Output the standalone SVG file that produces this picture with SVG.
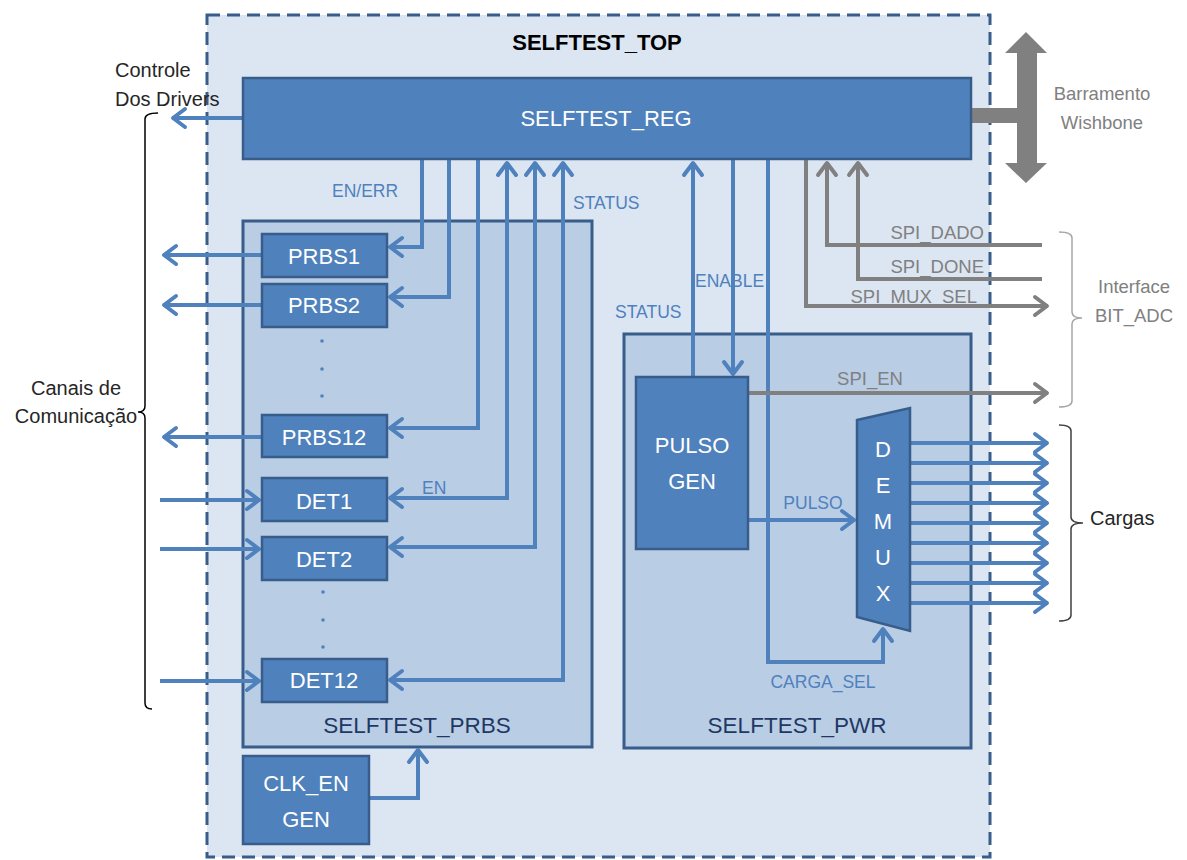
<svg xmlns="http://www.w3.org/2000/svg" width="1187" height="860" viewBox="0 0 1187 860">
<style>
text{font-family:"Liberation Sans",Arial,sans-serif}
.box{fill:#4f81bd;stroke:#385d8a;stroke-width:2.5}
.cont{fill:#b9cde5;stroke:#385d8a;stroke-width:3}
.wt{fill:#ffffff;font-size:22px;text-anchor:middle}
.ct{fill:#1f3864;font-size:22.5px;text-anchor:middle}
.bl{fill:#4f81bd;font-size:17.5px}
.gr{fill:#808080;font-size:18.5px}
.dk{fill:#262626;font-size:20px}
.w{fill:none;stroke:#4f81bd;stroke-width:4;stroke-linejoin:miter}
.g{fill:none;stroke:#808080;stroke-width:4}
.ab{marker-end:url(#ab)}
.abs{marker-start:url(#ab)}
.ag{marker-end:url(#ag)}
.br{fill:none;stroke-width:1.5}
</style>
<defs>
<marker id="ab" markerUnits="userSpaceOnUse" markerWidth="32" markerHeight="32" viewBox="-16 -16 32 32" refX="1" refY="0" orient="auto-start-reverse" overflow="visible">
<path d="M-12,-9 L0,0 L-12,9" fill="none" stroke="#4f81bd" stroke-width="4" stroke-linecap="round" stroke-linejoin="round"/>
</marker>
<marker id="ag" markerUnits="userSpaceOnUse" markerWidth="32" markerHeight="32" viewBox="-16 -16 32 32" refX="1" refY="0" orient="auto-start-reverse" overflow="visible">
<path d="M-12,-9 L0,0 L-12,9" fill="none" stroke="#808080" stroke-width="4" stroke-linecap="round" stroke-linejoin="round"/>
</marker>
</defs>
<rect width="1187" height="860" fill="#ffffff"/>

<g id="selftest_top">
<rect x="207" y="15" width="783" height="842" fill="#dce6f2" stroke="#385d8a" stroke-width="3" stroke-dasharray="13 7"/>
<text x="597" y="50" font-size="22" font-weight="bold" fill="#000000" text-anchor="middle">SELFTEST_TOP</text>
</g>

<g id="selftest_prbs">
<rect class="cont" x="243" y="221" width="349" height="526"/>
<text class="ct" x="417" y="733">SELFTEST_PRBS</text>
</g>

<g id="selftest_pwr">
<rect class="cont" x="624" y="334" width="347" height="414"/>
<text class="ct" x="797" y="733">SELFTEST_PWR</text>
</g>

<g id="connectors">
<path class="w ab" d="M243,118 H172"/>
<path class="w ab" d="M422,160 V247 H389"/>
<path class="w ab" d="M449,160 V297 H389"/>
<path class="w ab" d="M478,160 V428 H389"/>
<path class="w ab abs" d="M389,498 H507 V162"/>
<path class="w ab abs" d="M389,547 H535 V162"/>
<path class="w ab abs" d="M389,680 H563 V162"/>
<path class="w ab" d="M262,255 H163"/>
<path class="w ab" d="M262,305 H163"/>
<path class="w ab" d="M262,437 H163"/>
<path class="w ab" d="M160,500 H260"/>
<path class="w ab" d="M160,549 H260"/>
<path class="w ab" d="M160,681 H260"/>
<path class="w ab" d="M369,798 H418 V749"/>
<path class="w ab" d="M693,377 V162"/>
<path class="w ab" d="M733,160 V375"/>
<path class="w ab" d="M768,160 V662 H883 V628"/>
<path class="w ab" d="M748,520 H855"/>
<path class="w ab" d="M910,443 H1048"/>
<path class="w ab" d="M910,463 H1048"/>
<path class="w ab" d="M910,483 H1048"/>
<path class="w ab" d="M910,503 H1048"/>
<path class="w ab" d="M910,523 H1048"/>
<path class="w ab" d="M910,543 H1048"/>
<path class="w ab" d="M910,563 H1048"/>
<path class="w ab" d="M910,583 H1048"/>
<path class="w ab" d="M910,603 H1048"/>
<path class="g ag" d="M1042,245 H827 V162"/>
<path class="g ag" d="M1042,279 H858 V162"/>
<path class="g ag" d="M806,160 V306 H1048"/>
<path class="g ag" d="M748,393 H1048" stroke-width="3"/>
<polygon points="970,108 1017,108 1017,53 1005,53 1026,32 1047,53 1037,53 1037,163 1047,163 1026,183 1005,163 1017,163 1017,123 970,123" fill="#808080"/>
<text class="bl" x="332" y="197" font-size="18.5">EN/ERR</text>
<text class="bl" x="573" y="209">STATUS</text>
<text class="bl" x="615" y="318">STATUS</text>
<text class="bl" x="695" y="287">ENABLE</text>
<text class="bl" x="422" y="494">EN</text>
<text class="bl" x="813" y="509" font-size="18" text-anchor="middle">PULSO</text>
<text class="bl" x="823" y="688" font-size="18" text-anchor="middle">CARGA_SEL</text>
<text class="gr" x="984" y="239" text-anchor="end">SPI_DADO</text>
<text class="gr" x="984" y="273" text-anchor="end">SPI_DONE</text>
<text class="gr" x="977" y="303" text-anchor="end">SPI_MUX_SEL</text>
<text class="gr" x="870" y="385" text-anchor="middle">SPI_EN</text>
</g>

<g id="selftest_reg">
<rect class="box" x="243" y="78" width="728" height="81"/>
<text class="wt" x="606" y="126">SELFTEST_REG</text>
</g>

<g id="prbs1"><rect class="box" x="262" y="234" width="125" height="43"/><text class="wt" x="324" y="264">PRBS1</text></g>
<g id="prbs2"><rect class="box" x="262" y="284" width="125" height="43"/><text class="wt" x="324" y="313">PRBS2</text></g>
<g id="prbs_dots" fill="#4f81bd"><circle cx="322" cy="341" r="1.8"/><circle cx="322" cy="369" r="1.8"/><circle cx="322" cy="396" r="1.8"/></g>
<g id="prbs12"><rect class="box" x="262" y="415" width="125" height="42"/><text class="wt" x="324" y="445">PRBS12</text></g>
<g id="det1"><rect class="box" x="262" y="478" width="125" height="43"/><text class="wt" x="324" y="509">DET1</text></g>
<g id="det2"><rect class="box" x="262" y="537" width="125" height="43"/><text class="wt" x="324" y="567">DET2</text></g>
<g id="det_dots" fill="#4f81bd"><circle cx="323" cy="592" r="1.8"/><circle cx="323" cy="620" r="1.8"/><circle cx="323" cy="647" r="1.8"/></g>
<g id="det12"><rect class="box" x="262" y="659" width="125" height="43"/><text class="wt" x="324" y="688">DET12</text></g>

<g id="clk_en_gen">
<rect class="box" x="243" y="756" width="126" height="88"/>
<text class="wt" x="306" y="791" font-size="23">CLK_EN</text>
<text class="wt" x="306" y="827" font-size="23">GEN</text>
</g>

<g id="pulso_gen">
<rect class="box" x="636" y="377" width="112" height="172"/>
<text class="wt" x="692" y="453" font-size="23">PULSO</text>
<text class="wt" x="692" y="489" font-size="23">GEN</text>
</g>

<g id="demux">
<polygon class="box" points="857,420 910,408 910,631 857,617"/>
<text class="wt" x="883" y="457" font-size="24">D</text>
<text class="wt" x="883" y="493" font-size="24">E</text>
<text class="wt" x="883" y="529" font-size="24">M</text>
<text class="wt" x="883" y="565" font-size="24">U</text>
<text class="wt" x="883" y="601" font-size="24">X</text>
</g>

<g id="controle_drivers">
<text class="dk" x="115" y="77" font-size="20.5">Controle</text>
<text class="dk" x="115" y="106" font-size="20.5">Dos Drivers</text>
</g>

<g id="canais">
<path class="br" stroke="#000000" d="M158,113 Q145,113 145,119 L145,406 Q145,412 138,412 Q145,412 145,418 L145,703 Q145,709 152,709"/>
<text class="dk" x="76" y="395" text-anchor="middle">Canais de</text>
<text class="dk" x="76" y="423" text-anchor="middle">Comunicação</text>
</g>

<g id="barramento">
<text class="gr" x="1102" y="100" font-size="21.5" text-anchor="middle">Barramento</text>
<text class="gr" x="1102" y="129" font-size="21.5" text-anchor="middle">Wishbone</text>
</g>

<g id="interface">
<path class="br" stroke="#a6a6a6" d="M1059,232 Q1072,232 1072,238 L1072,312 Q1072,318 1082,318 Q1072,318 1072,324 L1072,401 Q1072,407 1059,407"/>
<text class="gr" x="1134" y="293" font-size="21.5" text-anchor="middle">Interface</text>
<text class="gr" x="1134" y="322" font-size="20.5" text-anchor="middle">BIT_ADC</text>
</g>

<g id="cargas">
<path class="br" stroke="#404040" d="M1059,425 Q1071,425 1071,431 L1071,517 Q1071,523 1083,523 Q1071,523 1071,529 L1071,615 Q1071,621 1059,621"/>
<text class="dk" x="1090" y="525">Cargas</text>
</g>
</svg>
